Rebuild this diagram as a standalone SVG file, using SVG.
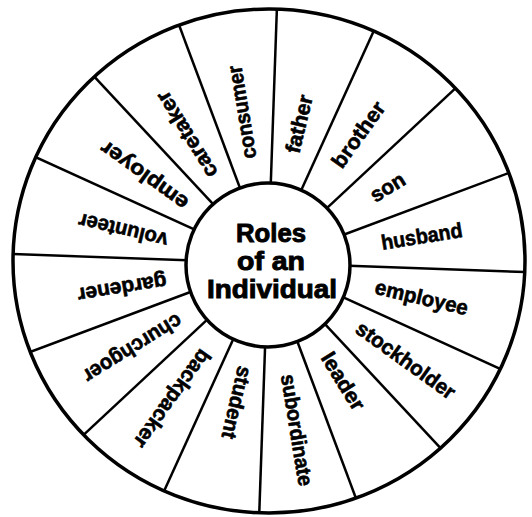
<svg xmlns="http://www.w3.org/2000/svg" width="532" height="517" viewBox="0 0 532 517">
<style>
.lbl{font-family:"Liberation Sans","DejaVu Sans",Arial,sans-serif;font-weight:bold;font-size:21px;fill:#000;stroke:#000;stroke-width:0.6}
.ctr{font-family:"Liberation Sans","DejaVu Sans",Arial,sans-serif;font-weight:bold;font-size:25px;fill:#000;stroke:#000;stroke-width:0.9;text-anchor:middle}
.spoke{stroke:#000;stroke-width:2.5;fill:none}
</style>
<defs>
<clipPath id="wheel"><ellipse cx="269" cy="261" rx="256" ry="252"/></clipPath>
</defs>
<rect width="532" height="517" fill="#fff"/>
<g id="spokes" clip-path="url(#wheel)">
<g transform="translate(268 263)">
<line class="spoke" x1="60" y1="0" x2="280" y2="0" transform="rotate(2)"/>
<line class="spoke" x1="60" y1="0" x2="280" y2="0" transform="rotate(24.5)"/>
<line class="spoke" x1="60" y1="0" x2="280" y2="0" transform="rotate(47)"/>
<line class="spoke" x1="60" y1="0" x2="280" y2="0" transform="rotate(69.5)"/>
<line class="spoke" x1="60" y1="0" x2="280" y2="0" transform="rotate(92)"/>
<line class="spoke" x1="60" y1="0" x2="280" y2="0" transform="rotate(114.5)"/>
<line class="spoke" x1="60" y1="0" x2="280" y2="0" transform="rotate(137)"/>
<line class="spoke" x1="60" y1="0" x2="280" y2="0" transform="rotate(159.5)"/>
<line class="spoke" x1="60" y1="0" x2="280" y2="0" transform="rotate(182)"/>
<line class="spoke" x1="60" y1="0" x2="280" y2="0" transform="rotate(204.5)"/>
<line class="spoke" x1="60" y1="0" x2="280" y2="0" transform="rotate(227)"/>
<line class="spoke" x1="60" y1="0" x2="280" y2="0" transform="rotate(249.5)"/>
<line class="spoke" x1="60" y1="0" x2="280" y2="0" transform="rotate(272)"/>
<line class="spoke" x1="60" y1="0" x2="280" y2="0" transform="rotate(294.5)"/>
<line class="spoke" x1="60" y1="0" x2="280" y2="0" transform="rotate(317)"/>
<line class="spoke" x1="60" y1="0" x2="280" y2="0" transform="rotate(339.5)"/>
</g>
</g>
<g id="outer-ring"><ellipse cx="269" cy="261" rx="256" ry="252" fill="none" stroke="#000" stroke-width="3.5"/></g>
<g id="labels" transform="translate(268 263)">
<g id="husband" transform="rotate(-9.25)"><text class="lbl" x="115" y="5.5" textLength="82" lengthAdjust="spacingAndGlyphs">husband</text></g>
<g id="employee" transform="rotate(13.25)"><text class="lbl" x="110" y="5.5" textLength="95" lengthAdjust="spacingAndGlyphs">employee</text></g>
<g id="stockholder" transform="rotate(35.75)"><text class="lbl" x="110" y="5.5" textLength="117" lengthAdjust="spacingAndGlyphs">stockholder</text></g>
<g id="leader" transform="rotate(58.25)"><text class="lbl" x="108" y="5.5" textLength="64" lengthAdjust="spacingAndGlyphs">leader</text></g>
<g id="subordinate" transform="rotate(80.75)"><text class="lbl" x="113" y="5.5" textLength="113" lengthAdjust="spacingAndGlyphs">subordinate</text></g>
<g id="student" transform="rotate(103.25)"><text class="lbl" x="106" y="5.5" textLength="74" lengthAdjust="spacingAndGlyphs">student</text></g>
<g id="backpacker" transform="rotate(125.75)"><text class="lbl" x="108" y="5.5" textLength="116" lengthAdjust="spacingAndGlyphs">backpacker</text></g>
<g id="churchgoer" transform="rotate(148.25)"><text class="lbl" x="104" y="5.5" textLength="112" lengthAdjust="spacingAndGlyphs">churchgoer</text></g>
<g id="gardener" transform="rotate(170.75)"><text class="lbl" x="103" y="5.5" textLength="90" lengthAdjust="spacingAndGlyphs">gardener</text></g>
<g id="volunteer" transform="rotate(193.25)"><text class="lbl" x="103" y="5.5" textLength="91" lengthAdjust="spacingAndGlyphs">volunteer</text></g>
<g id="employer" transform="rotate(215.75)"><text class="lbl" x="100" y="5.5" textLength="103" lengthAdjust="spacingAndGlyphs">employer</text></g>
<g id="caretaker" transform="rotate(238.25)"><text class="lbl" x="103" y="5.5" textLength="98" lengthAdjust="spacingAndGlyphs">caretaker</text></g>
<g id="consumer" transform="rotate(260.75)"><text class="lbl" x="106" y="5.5" textLength="94" lengthAdjust="spacingAndGlyphs">consumer</text></g>
<g id="father" transform="rotate(283.25)"><text class="lbl" x="113" y="5.5" textLength="59" lengthAdjust="spacingAndGlyphs">father</text></g>
<g id="brother" transform="rotate(305.75)"><text class="lbl" x="119" y="5.5" textLength="76" lengthAdjust="spacingAndGlyphs">brother</text></g>
<g id="son" transform="rotate(328.25)"><text class="lbl" x="123" y="5.5" textLength="37" lengthAdjust="spacingAndGlyphs">son</text></g>
</g>
<g id="center">
<circle cx="268" cy="265" r="82" fill="#fff" stroke="#000" stroke-width="3.5"/>
<text class="ctr" x="271" y="242" textLength="70" lengthAdjust="spacingAndGlyphs">Roles</text>
<text class="ctr" x="271" y="270" textLength="68" lengthAdjust="spacingAndGlyphs">of an</text>
<text class="ctr" x="272" y="298" textLength="130" lengthAdjust="spacingAndGlyphs">Individual</text>
</g>
</svg>
